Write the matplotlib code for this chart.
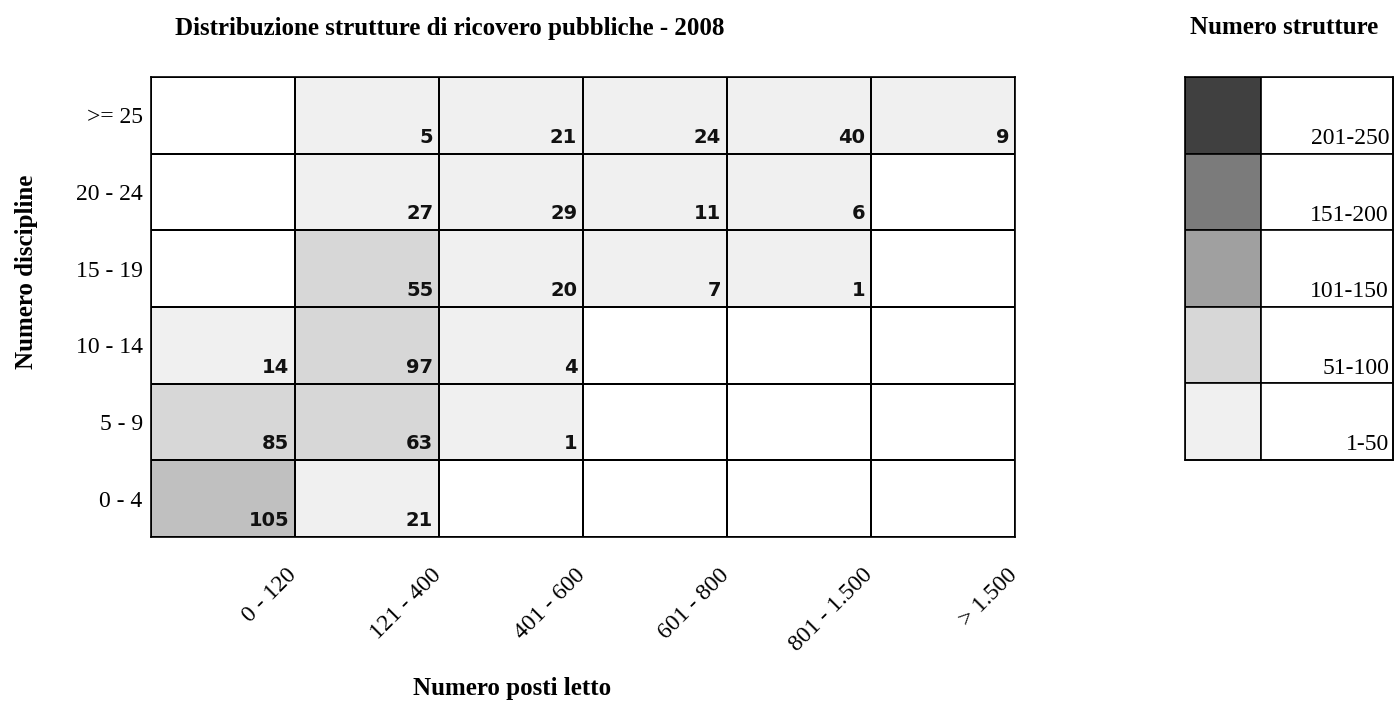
import numpy as np
import matplotlib
matplotlib.use("Agg")
from matplotlib import pyplot as plt
from matplotlib.colors import ListedColormap, BoundaryNorm

col_labels = ["0 - 120", "121 - 400", "401 - 600", "601 - 800", "801 - 1.500", "> 1.500"]
row_labels = [">= 25", "20 - 24", "15 - 19", "10 - 14", "5 - 9", "0 - 4"]

# counts, rows top to bottom
row_ge25 = [0, 5, 21, 24, 40, 9]
row_20_24 = [0, 27, 29, 11, 6, 0]
row_15_19 = [0, 55, 20, 7, 1, 0]
row_10_14 = [14, 97, 4, 0, 0, 0]
row_5_9 = [85, 63, 1, 0, 0, 0]
row_0_4 = [105, 21, 0, 0, 0, 0]

bins = [0, 1, 51, 101, 151, 201, 251]
cell_colors = ["#ffffff", "#f0f0f0", "#d7d7d7", "#c0c0c0", "#7b7b7b", "#404040"]

legend_labels = ["201-250", "151-200", "101-150", "51-100", "1-50"]
legend_colors = ["#404040", "#7b7b7b", "#a0a0a0", "#d7d7d7", "#f0f0f0"]

serif = "Liberation Serif"
sans = "DejaVu Sans"
lw = 1.2

data = np.array([row_ge25, row_20_24, row_15_19, row_10_14, row_5_9, row_0_4])
nr, nc = data.shape

fig = plt.figure(figsize=(13.98, 7.01), dpi=100)
ax = fig.add_axes([151/1398, 1-537/701, 864/1398, 460/701])

cmap = ListedColormap(cell_colors)
norm = BoundaryNorm(bins, cmap.N)
ax.pcolormesh(np.arange(nc+1), np.arange(nr+1), data, cmap=cmap, norm=norm,
              edgecolors="black", linewidth=lw)
ax.set_xlim(0, nc)
ax.set_ylim(nr, 0)
for s in ax.spines.values():
    s.set_linewidth(lw)

for r in range(nr):
    for c in range(nc):
        if data[r, c] > 0:
            ax.text(c+1-0.04, r+1-0.09, str(data[r, c]), ha="right", va="bottom",
                    fontsize=14, fontweight="bold", family=sans, color="#111111")

ax.set_yticks(np.arange(nr)+0.5)
ax.set_yticklabels(row_labels, fontsize=17, family=serif)
ax.tick_params(axis="y", length=0, pad=6)
ax.set_xticks([])
tr = ax.get_xaxis_transform()
for c, lab in enumerate(col_labels):
    ax.text(c+1-0.06, -0.06, lab, transform=tr, rotation=45, rotation_mode="anchor",
            ha="right", va="top", fontsize=17, family=serif)

fig.text(450/1398, 1-28/701, "Distribuzione strutture di ricovero pubbliche - 2008",
         ha="center", va="center", fontsize=18, fontweight="bold", family=serif)
fig.text(512/1398, 1-688/701, "Numero posti letto", ha="center", va="center",
         fontsize=18, fontweight="bold", family=serif)
fig.text(27/1398, 1-272/701, "Numero discipline", ha="center", va="center", rotation=90,
         fontsize=18, fontweight="bold", family=serif)

# legend
lax = fig.add_axes([1185/1398, 1-460/701, 208/1398, 383/701])
nl = len(legend_labels)
for i in range(nl):
    lax.fill_between([0, 76], i, i+1, color=legend_colors[i], ec="black", lw=lw)
    lax.fill_between([76, 208], i, i+1, color="white", ec="black", lw=lw)
    lax.text(204, i+1-0.06, legend_labels[i], ha="right", va="bottom", fontsize=17, family=serif)
lax.set_xlim(0, 208)
lax.set_ylim(nl, 0)
lax.set_xticks([])
lax.set_yticks([])
for s in lax.spines.values():
    s.set_linewidth(lw)
fig.text(1190/1398, 1-28/701, "Numero strutture", ha="left", va="center",
         fontsize=18, fontweight="bold", family=serif)

fig.savefig("out.png", dpi=100)
